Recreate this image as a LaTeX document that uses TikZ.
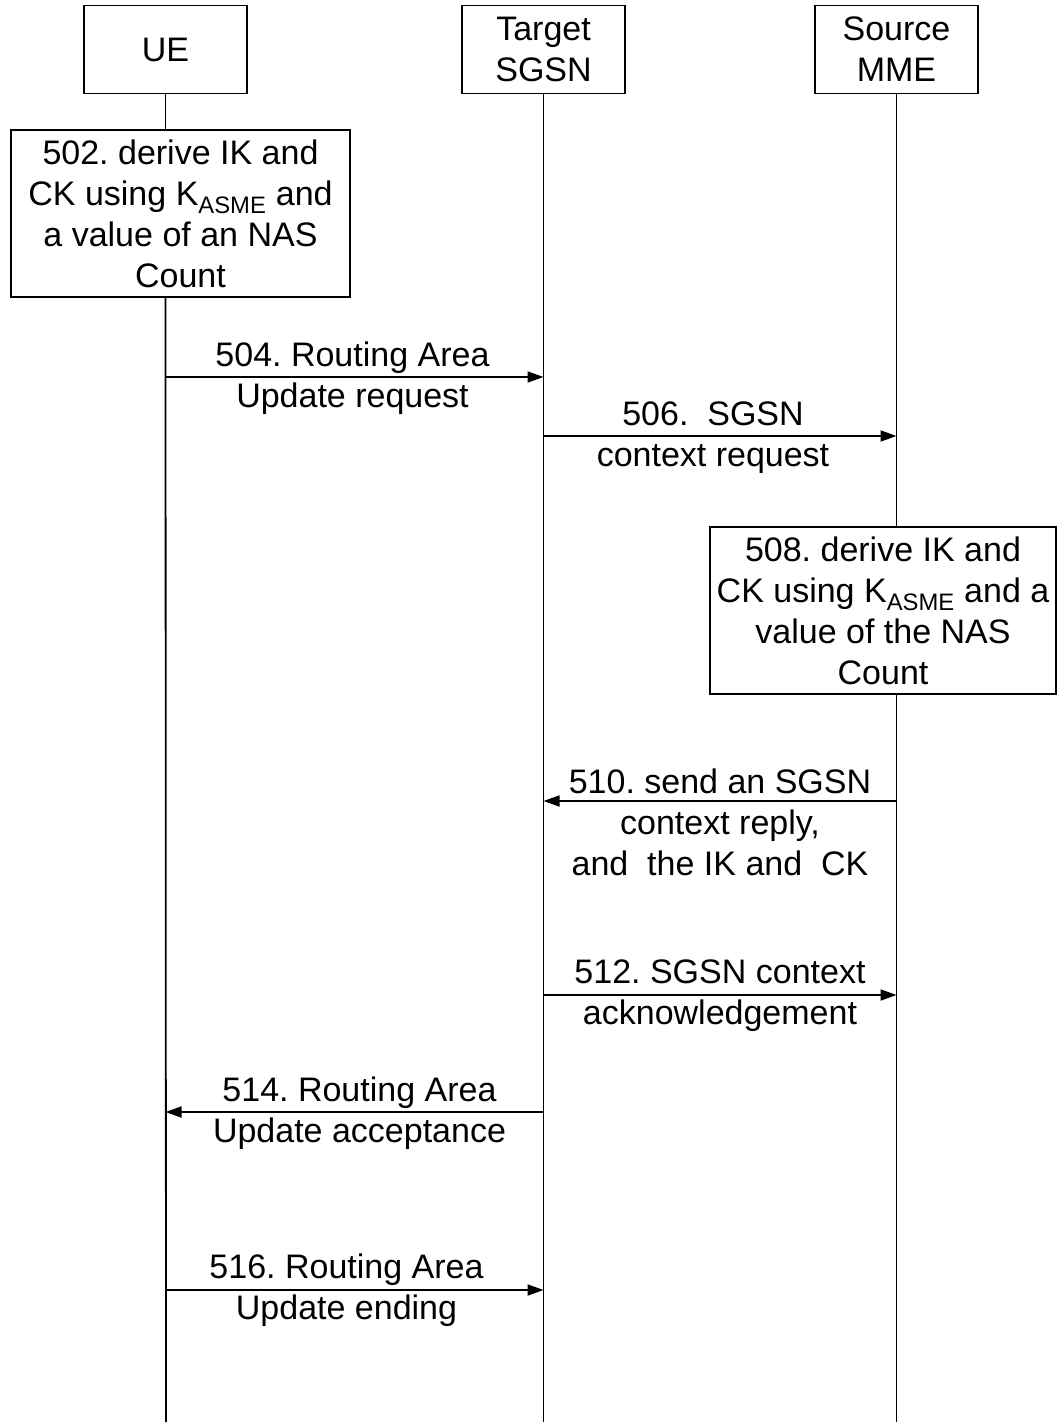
\documentclass[tikz,border=0pt]{standalone}
\usepackage{fontspec}
\setmainfont{Liberation Sans}
\usetikzlibrary{arrows.meta}
\frenchspacing

\begin{document}
\begin{tikzpicture}[x=1pt,y=-1pt,
  every node/.style={font=\fontsize{34}{41}\selectfont},
  actor/.style={draw, line width=1.8pt, minimum width=163pt, minimum height=88pt, align=center, inner sep=0pt},
  stepbox/.style={draw, fill=white, line width=1.8pt, align=center, inner sep=0pt},
  life/.style={line width=1.8pt},
  msg/.style={line width=1.8pt, -{Triangle[length=16pt,width=11pt]}},
  lbl/.style={align=center, inner sep=0pt}]
  \useasboundingbox (0,0) rectangle (1058,1426);

  % entities
  \node[actor] (ue) at (165.5,49.5) {UE};
  \node[actor] (sgsn) at (543.5,49.5) {Target\\SGSN};
  \node[actor] (mme) at (896.5,49.5) {Source\\MME};

  % local steps
  \node[stepbox, minimum width=339pt, minimum height=167pt] (b502) at (180.5,213.5)
    {502. derive IK and\\CK using K\textsubscript{ASME} and\\a value of an NAS\\Count};
  \node[stepbox, minimum width=346pt, minimum height=167pt] (b508) at (883,610.5)
    {508. derive IK and\\CK using K\textsubscript{ASME} and a\\value of the NAS\\Count};

  \coordinate (ueEnd) at (166,1422);
  \coordinate (sgsnEnd) at (543.5,1422);
  \coordinate (mmeEnd) at (896.5,1422);

  % lifelines
  \draw[life] (ue.south) -- (ue.south |- b502.north);
  \draw[life] (ue.south |- b502.south) -- (ueEnd);
  \draw[life] (sgsn.south) -- (sgsnEnd);
  \draw[life] (mme.south) -- (mme.south |- b508.north);
  \draw[life] (mme.south |- b508.south) -- (mmeEnd);

  % messages
  \draw[msg] (ue.south |- 0,377) -- node[lbl, xshift=-2pt, yshift=-1pt]{504. Routing Area\\Update request} (sgsn.south |- 0,377);
  \draw[msg] (sgsn.south |- 0,436) -- node[lbl, xshift=-7pt, yshift=-2pt]{506.\ \ SGSN\\context request} (mme.south |- 0,436);
  \draw[msg] (mme.south |- 0,801) -- node[lbl, yshift=-21.5pt]{510. send an SGSN\\context reply,\\and\ \ the IK and\ \ CK} (sgsn.south |- 0,801);
  \draw[msg] (sgsn.south |- 0,995) -- node[lbl, yshift=-1pt]{512. SGSN context\\acknowledgement} (mme.south |- 0,995);
  \draw[msg] (sgsn.south |- 0,1112) -- node[lbl, xshift=5pt, yshift=-1pt]{514. Routing Area\\Update acceptance} (ue.south |- 0,1112);
  \draw[msg] (ue.south |- 0,1290) -- node[lbl, xshift=-8pt]{516. Routing Area\\Update ending} (sgsn.south |- 0,1290);
\end{tikzpicture}
\end{document}
